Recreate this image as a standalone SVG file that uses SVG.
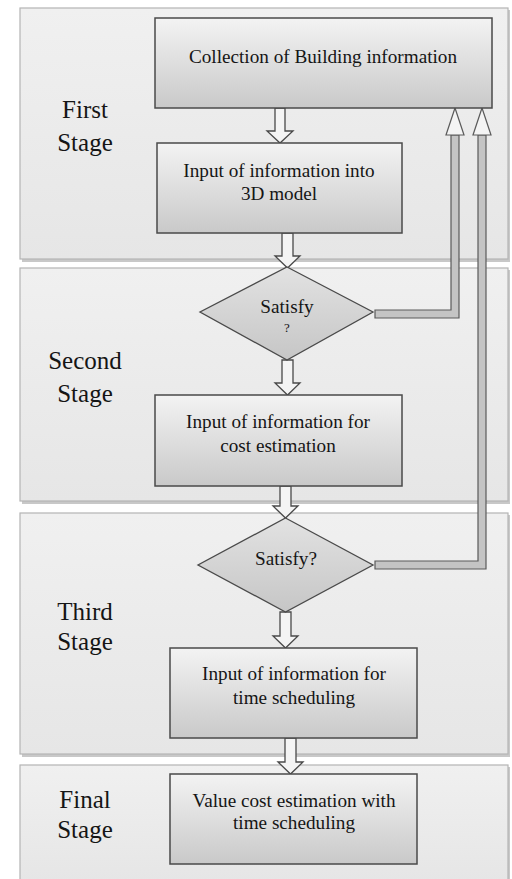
<svg xmlns="http://www.w3.org/2000/svg" width="512" height="879" viewBox="0 0 512 879">
<defs>
<linearGradient id="pg" x1="0" y1="0" x2="0" y2="1"><stop offset="0" stop-color="#f0f0f0"/><stop offset="1" stop-color="#e6e6e6"/></linearGradient>
<linearGradient id="bg" x1="0" y1="0" x2="0" y2="1"><stop offset="0" stop-color="#f3f3f3"/><stop offset="1" stop-color="#c9c9c9"/></linearGradient>
<linearGradient id="dg" x1="0" y1="0" x2="0" y2="1"><stop offset="0" stop-color="#e2e2e2"/><stop offset="1" stop-color="#c6c6c6"/></linearGradient>
</defs>
<style>
.panel{fill:url(#pg);stroke:#b4b4b4;stroke-width:1.2}
.pshadow{fill:#c8c8c8}
.box{fill:url(#bg);stroke:#4a4a4a;stroke-width:1.5}
.dia{fill:url(#dg);stroke:#4a4a4a;stroke-width:1.3}
.arr{fill:#f4f4f4;stroke:#4a4a4a;stroke-width:1.3;stroke-linejoin:miter}
.fb{fill:#c4c4c4;stroke:#5a5a5a;stroke-width:1.2}
.fbh{fill:#f4f4f4;stroke:#5a5a5a;stroke-width:1.2}
text{font-family:'Liberation Serif','DejaVu Serif',serif;fill:#151515;text-anchor:middle}
.t{font-size:19.2px}
.st{font-size:25px}
</style>
<rect width="512" height="879" fill="#ffffff"/>
<g id="panels">
<rect class="pshadow" x="22" y="10" width="488" height="252"/>
<rect class="panel" x="20" y="8" width="488" height="251"/>
<rect class="pshadow" x="22" y="270" width="488" height="234"/>
<rect class="panel" x="20" y="268" width="488" height="233"/>
<rect class="pshadow" x="22" y="515" width="488" height="242"/>
<rect class="panel" x="20" y="513" width="488" height="241"/>
<rect class="pshadow" x="22" y="767" width="488" height="114"/>
<rect class="panel" x="20" y="765" width="488" height="116"/>
</g>
<g id="stage-labels">
<text class="st" x="85" y="118">First</text><text class="st" x="85" y="151">Stage</text>
<text class="st" x="85" y="369">Second</text><text class="st" x="85" y="402">Stage</text>
<text class="st" x="85" y="620">Third</text><text class="st" x="85" y="650">Stage</text>
<text class="st" x="85" y="808">Final</text><text class="st" x="85" y="838">Stage</text>
</g>
<g id="connectors">
<polygon class="arr" points="275,108 285,108 285,131 293,131 280,143 267,131 275,131"/>
<polygon class="arr" points="282,233 293,233 293,256 300,256 287.5,268 275,256 282,256"/>
<polygon class="arr" points="282,360 293,360 293,383 300,383 287.5,395 275,383 282,383"/>
<polygon class="arr" points="280,486 291,486 291,506 298,506 285.5,518 273,506 280,506"/>
<polygon class="arr" points="280,612 291,612 291,636 298,636 285.5,648 273,636 280,636"/>
<polygon class="arr" points="285,738 296,738 296,762 303,762 290.5,774 278,762 285,762"/>
<polygon class="fb" points="375,310 451,310 451,135 459,135 459,318 375,318"/>
<polygon class="fbh" points="451,135 446,135 455,108 464,135 459,135"/>
<polygon class="fb" points="375,561 478,561 478,135 486,135 486,569 375,569"/>
<polygon class="fbh" points="478,135 473,135 482,108 491,135 486,135"/>
</g>
<g id="n1"><rect class="box" x="155" y="18" width="337" height="90"/><text class="t" x="323" y="63">Collection of Building information</text></g>
<g id="n2"><rect class="box" x="157" y="143" width="245" height="90"/><text class="t" x="279" y="177">Input of information into</text><text class="t" x="279" y="200">3D model</text></g>
<g id="d1"><polygon class="dia" points="287,267 373,312 287,360 200,312"/><text class="t" x="287" y="313">Satisfy</text><text class="t" x="287" y="332" style="font-size:13px">?</text></g>
<g id="n3"><rect class="box" x="155" y="395" width="247" height="91"/><text class="t" x="278" y="428">Input of information for</text><text class="t" x="278" y="452">cost estimation</text></g>
<g id="d2"><polygon class="dia" points="285.5,518 373,565 285.5,612 198,565"/><text class="t" x="286" y="565">Satisfy?</text></g>
<g id="n4"><rect class="box" x="170" y="648" width="247" height="90"/><text class="t" x="294" y="680">Input of information for</text><text class="t" x="294" y="704">time scheduling</text></g>
<g id="n5"><rect class="box" x="170" y="774" width="247" height="90"/><text class="t" x="294" y="807">Value cost estimation with</text><text class="t" x="294" y="829">time scheduling</text></g>
</svg>
